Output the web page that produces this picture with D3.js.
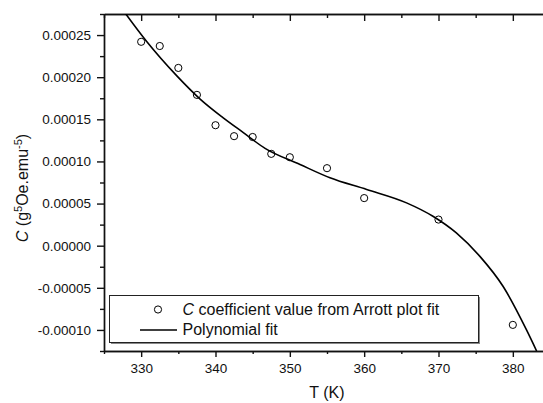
<!DOCTYPE html>
<html>
<head>
<meta charset="utf-8">
<script src="https://cdn.jsdelivr.net/npm/d3@7"></script>
<style>
  body { margin: 0; background: #fff; }
  svg { display: block; font-family: "Liberation Sans", Arial, sans-serif; }
</style>
</head>
<body>
<svg id="vis"></svg>
<script>
// measured points (C coefficient from Arrott plot fit)
const temps = [330, 332.5, 335, 337.5, 340, 342.5, 345, 347.5, 350, 355, 360, 370, 380]
const cValues = [0.000242, 0.000237, 0.000211, 0.000179, 0.000143, 0.000130, 0.000129,
                 0.000109, 0.000105, 0.000092, 0.0000565, 0.000031, -0.000094]

// polynomial fit
const fitT = [327.85, 330.77, 334.8, 337.93, 341.0, 343.7, 346.67, 351.37, 355.4, 360.34,
              365.7, 369.25, 372.4, 375.57, 378.7, 381.84, 383.2]
const fitC = [0.000276, 0.000242, 0.0002015, 0.000174, 0.000152, 0.0001345, 0.0001155, 0.0000964,
              0.0000806, 0.0000667, 0.0000508, 0.0000349, 0.0000151, -0.0000127, -0.0000485, -0.0001, -0.000125]

// tick values
const xMajor = [330, 340, 350, 360, 370, 380]
const xMinor = [325, 335, 345, 355, 365, 375, 385]
const yMajor = [-0.0001, -0.00005, 0, 0.00005, 0.0001, 0.00015, 0.0002, 0.00025]
const yMinor = [-0.000125, -0.000075, -0.000025, 0.000025, 0.000075, 0.000125, 0.000175, 0.000225, 0.000275]

const W = 543, H = 403
const LEFT = 104, TOP = 14, BOTTOM = 351, RIGHT = 550

const svg = d3.select('#vis').attr('width', W).attr('height', H)

const x = d3.scaleLinear().domain([325, 385]).range([LEFT, RIGHT])
const y = d3.scaleLinear().domain([-0.000125, 0.000275]).range([BOTTOM, TOP])

svg.append('clipPath').attr('id', 'plot')
  .append('rect')
    .attr('x', LEFT).attr('y', TOP)
    .attr('width', W - LEFT).attr('height', BOTTOM - TOP)

const fmt = d => d3.format('.5f')(d).replace('\u2212', '-')

function styleAxis(g) {
  g.selectAll('path, line').attr('stroke', '#111').attr('stroke-width', 1.4)
  g.selectAll('text').attr('fill', '#111').attr('font-size', '13.5px')
    .attr('font-family', '"Liberation Sans", Arial, sans-serif')
}

// minor ticks first, then major axes on top
svg.append('g').attr('transform', `translate(0,${BOTTOM})`)
  .call(d3.axisBottom(x).tickValues(xMinor).tickSize(3).tickFormat('').tickSizeOuter(0))
  .call(styleAxis)
svg.append('g').attr('transform', `translate(0,${BOTTOM})`)
  .call(d3.axisBottom(x).tickValues(xMajor).tickSize(6).tickPadding(6).tickSizeOuter(0))
  .call(styleAxis)

// top axis, ticks pointing inward
svg.append('g').attr('transform', `translate(0,${TOP})`)
  .call(d3.axisBottom(x).tickValues(xMinor).tickSize(4).tickFormat('').tickSizeOuter(0))
  .call(styleAxis)
svg.append('g').attr('transform', `translate(0,${TOP})`)
  .call(d3.axisBottom(x).tickValues(xMajor).tickSize(7).tickFormat('').tickSizeOuter(0))
  .call(styleAxis)

svg.append('g').attr('transform', `translate(${LEFT},0)`)
  .call(d3.axisLeft(y).tickValues(yMinor).tickSize(4).tickFormat('').tickSizeOuter(0))
  .call(styleAxis)
svg.append('g').attr('transform', `translate(${LEFT},0)`)
  .call(d3.axisLeft(y).tickValues(yMajor).tickSize(7).tickPadding(6).tickFormat(fmt).tickSizeOuter(0))
  .call(styleAxis)

// polynomial fit line
const fitData = fitT.map((t, i) => [t, fitC[i]])
svg.append('path')
  .datum(fitData)
  .attr('clip-path', 'url(#plot)')
  .attr('fill', 'none')
  .attr('stroke', '#000')
  .attr('stroke-width', 1.6)
  .attr('d', d3.line().x(d => x(d[0])).y(d => y(d[1])).curve(d3.curveMonotoneX))

// data circles
svg.append('g').selectAll('circle')
  .data(temps.map((t, i) => [t, cValues[i]]))
  .join('circle')
    .attr('cx', d => x(d[0]))
    .attr('cy', d => y(d[1]))
    .attr('r', 3.6)
    .attr('fill', 'none')
    .attr('stroke', '#000')
    .attr('stroke-width', 1)

// legend box with a little shadow
svg.append('rect')
  .attr('x', 111).attr('y', 297).attr('width', 369).attr('height', 47)
  .attr('fill', '#888')
svg.append('rect')
  .attr('x', 109.5).attr('y', 295.5).attr('width', 369).attr('height', 47)
  .attr('fill', '#fff').attr('stroke', '#222').attr('stroke-width', 1)

svg.append('circle')
  .attr('cx', 158).attr('cy', 309.5).attr('r', 3.6)
  .attr('fill', 'none').attr('stroke', '#000').attr('stroke-width', 1)
const t1 = svg.append('text').attr('x', 182.5).attr('y', 315)
  .attr('font-size', '16px').attr('fill', '#111')
t1.append('tspan').attr('font-style', 'italic').text('C')
t1.append('tspan').text(' coefficient value from Arrott plot fit')

svg.append('line')
  .attr('x1', 140).attr('x2', 177).attr('y1', 330).attr('y2', 330)
  .attr('stroke', '#000').attr('stroke-width', 1.6)
svg.append('text').attr('x', 182.5).attr('y', 335)
  .attr('font-size', '16px').attr('fill', '#111')
  .text('Polynomial fit')

// axis titles
svg.append('text')
  .attr('x', 327).attr('y', 398)
  .attr('text-anchor', 'middle')
  .attr('font-size', '16px').attr('fill', '#111')
  .text('T (K)')

const yl = svg.append('text')
  .attr('transform', 'translate(28,188) rotate(-90)')
  .attr('text-anchor', 'middle')
  .attr('font-size', '16px').attr('fill', '#111')
yl.append('tspan').attr('font-style', 'italic').text('C')
yl.append('tspan').text(' (g')
yl.append('tspan').attr('font-size', '11px').attr('dy', -6).text('5')
yl.append('tspan').attr('dy', 6).text('Oe.emu')
yl.append('tspan').attr('font-size', '11px').attr('dy', -6).text('-5')
yl.append('tspan').attr('dy', 6).text(')')
</script>
</body>
</html>
